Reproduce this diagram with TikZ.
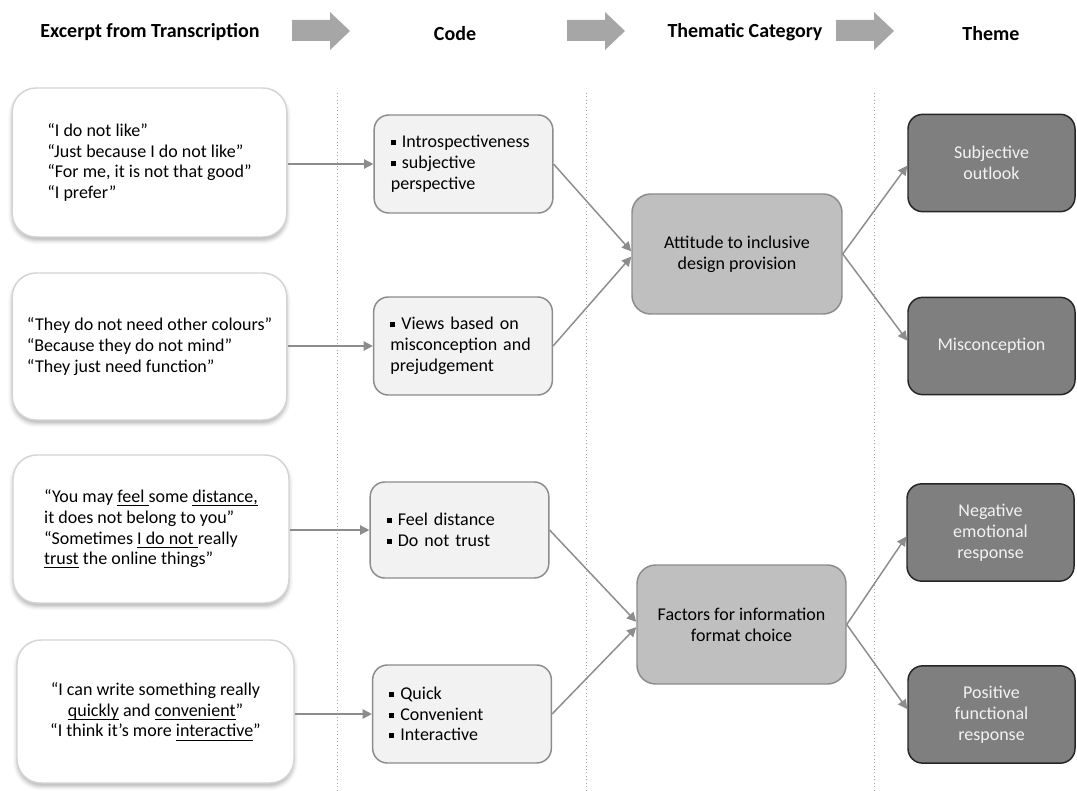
\documentclass[tikz,border=0pt]{standalone}
\usepackage{fontspec}
\setmainfont{Carlito}
\usetikzlibrary{arrows.meta,shadows.blur}

\definecolor{linegray}{HTML}{8C8C8C}
\definecolor{quoteline}{HTML}{D4D4D4}
\definecolor{codefill}{HTML}{F2F2F2}
\definecolor{catfill}{HTML}{BFBFBF}
\definecolor{themefill}{HTML}{7F7F7F}
\definecolor{themetext}{HTML}{F2F2F2}
\definecolor{headarrow}{HTML}{A6A6A6}
\definecolor{sepline}{HTML}{A6A6A6}

% small square bullet used in the code boxes
\newcommand\sqbul{\raisebox{0.3ex}{\rule{0.28em}{0.28em}}\ }
% underline at a fixed depth below the baseline
\newsavebox\ulbox
\newcommand\myul[1]{\sbox\ulbox{#1}\rlap{\rule[-0.2em]{\wd\ulbox}{0.06em}}\usebox\ulbox}

\begin{document}
\begin{tikzpicture}[x=0.75pt,y=-0.75pt,
  bodyfont/.style={font=\fontsize{13.5}{15.6}\selectfont},
  header/.style={font=\fontsize{15}{18}\selectfont\bfseries, inner sep=0pt},
  quotebox/.style={draw=quoteline, line width=1.1pt, fill=white,
    rounded corners=18pt, bodyfont,
    blur shadow={shadow xshift=0pt, shadow yshift=-2.5pt,
      shadow blur radius=3pt, shadow opacity=30},
    minimum width=206pt, inner sep=0pt},
  codebox/.style={draw=linegray, line width=1.1pt, fill=codefill,
    rounded corners=11pt, bodyfont, align=left, text width=109pt,
    inner xsep=12.5pt, inner ysep=0pt, minimum height=73.5pt},
  catbox/.style={draw=linegray, line width=1.1pt, fill=catfill,
    rounded corners=14pt, bodyfont, align=center,
    minimum width=157.5pt, minimum height=90pt, inner sep=0pt},
  themebox/.style={draw=black!85, line width=1.1pt, fill=themefill,
    rounded corners=11pt, bodyfont, text=themetext, align=center,
    minimum width=125.25pt, minimum height=73pt, inner sep=0pt},
  conn/.style={draw=linegray, line width=1.1pt,
    -{Triangle[length=7pt,width=7pt]}},
  sep/.style={draw=sepline, line width=0.6pt, dotted},
  blockarrow/.style={fill=headarrow, draw=none}
]
\useasboundingbox (0,0) rectangle (1077,791);

% column headings and the block arrows between them
\node[header] (h1) at (150,32) {Excerpt from Transcription};
\node[header] (h2) at (455,34) {Code};
\node[header] (h3) at (745,32) {Thematic Category};
\node[header] (h4) at (991,34) {Theme};
\foreach \xa in {292,567,836}{
  \fill[blockarrow] (\xa,20) -- (\xa+38,20) -- (\xa+38,12) -- (\xa+58,31)
    -- (\xa+38,50) -- (\xa+38,41) -- (\xa,41) -- cycle;
}

% dotted column separators
\coordinate (s1t) at (337,93);  \coordinate (s1b) at (337,791);
\coordinate (s2t) at (586,93);  \coordinate (s2b) at (586,791);
\coordinate (s3t) at (874,93);  \coordinate (s3b) at (874,791);
\draw[sep] (s1t) -- (s1b);
\draw[sep] (s2t) -- (s2b);
\draw[sep] (s3t) -- (s3b);

% transcription excerpts
\node[quotebox, minimum height=111.75pt, align=left] (L1) at (149.5,162.5)
  {“I do not like”\\“Just because I do not like”\\“For me, it is not that good”\\“I prefer”};
\node[quotebox, minimum height=110.25pt, align=left] (L2) at (149.5,346.5)
  {“They do not need other colours”\\“Because they do not mind”\\“They just need function”};
\node[quotebox, minimum height=111pt, minimum width=207pt, align=left] (L3) at (151,529)
  {“You may \myul{feel }some \myul{distance,}\\it does not belong to you”\\“Sometimes \myul{I do not }really\\\myul{trust} the online things”};
\node[quotebox, minimum height=107.25pt, minimum width=207.75pt, align=center] (L4) at (155.5,711.5)
  {“I can write something really\\\myul{quickly} and \myul{convenient}”\\“I think it’s more \myul{interactive}”};

% codes
\node[codebox] (C1) at (463.5,164) {\sqbul Introspectiveness\\\sqbul subjective\\perspective};
\node[codebox] (C2) at (463,346) {\sqbul Views based on\\misconception and\\prejudgement};
\node[codebox, minimum height=72pt] (C3) at (459.5,530) {\sqbul Feel distance\\\sqbul Do not trust};
\node[codebox] (C4) at (462,714) {\sqbul Quick\\\sqbul Convenient\\\sqbul Interactive};

% thematic categories
\node[catbox] (T1) at (737,254) {Attitude to inclusive\\design provision};
\node[catbox, minimum width=156.75pt, minimum height=89.25pt] (T2) at (741.5,624.5)
  {Factors for information\\format choice};

% themes
\node[themebox] (S) at (991.5,163) {Subjective\\outlook};
\node[themebox] (M) at (991.5,346) {Misconception};
\node[themebox] (N) at (990.5,532.5) {Negative\\emotional\\response};
\node[themebox] (P) at (991.5,714.5) {Positive\\functional\\response};

% connectors
\draw[conn] (L1.east |- C1.west) -- (C1.west);
\draw[conn] (L2.east |- C2.west) -- (C2.west);
\draw[conn] (L3.east |- C3.west) -- (C3.west);
\draw[conn] (L4.east |- C4.west) -- (C4.west);
\draw[conn] (C1.east) -- ([yshift=2pt]T1.west);
\draw[conn] (C2.east) -- ([yshift=-2pt]T1.west);
\draw[conn] (C3.east) -- ([yshift=2pt]T2.west);
\draw[conn] (C4.east) -- ([yshift=-2pt]T2.west);
\draw[conn] (T1.east) -- ([yshift=-2pt]S.west);
\draw[conn] (T1.east) -- ([yshift=4pt]M.west);
\draw[conn] (T2.east) -- ([yshift=-3pt]N.west);
\draw[conn] (T2.east) -- ([yshift=4pt]P.west);
\end{tikzpicture}
\end{document}
